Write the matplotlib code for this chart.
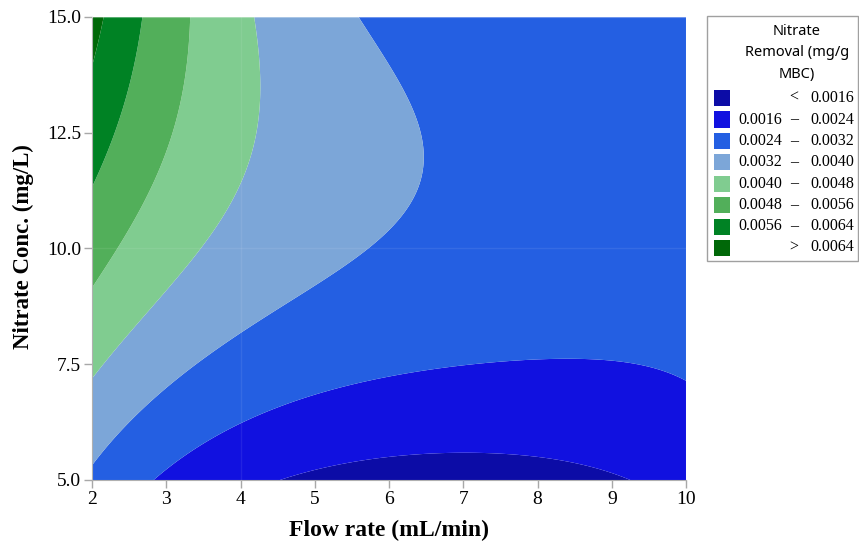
import numpy as np
import matplotlib
matplotlib.use("Agg")
import matplotlib.pyplot as plt
from matplotlib.patches import Rectangle

# ───────────────────────────────────────────────
# points (flow rate, nitrate conc.)
c0016 = [(4.58, 5.0), (6.01, 5.50), (7.09, 5.59), (7.99, 5.49), (9.0, 5.04)]
c0024 = [(2.78, 5.0), (3.23, 5.61), (3.99, 6.22), (5.12, 6.91), (6.15, 7.32),
         (7.54, 7.70), (8.12, 7.70), (9.02, 7.52), (9.99, 6.91)]
c0032 = [(2.0, 5.32), (2.29, 5.86), (2.78, 6.69), (3.99, 8.10), (5.21, 9.32),
         (5.70, 9.97), (6.17, 10.76), (6.42, 11.87), (6.19, 13.24), (5.52, 15.0)]
c0040 = [(2.0, 7.20), (2.42, 7.88), (2.87, 8.89), (3.45, 9.97), (3.95, 10.98),
         (4.17, 11.91), (4.31, 12.67), (4.31, 13.82), (4.17, 15.0)]
c0048 = [(2.0, 9.25), (2.42, 10.18), (2.80, 11.33), (3.05, 12.34), (3.21, 13.57),
         (3.28, 15.0)]
c0056 = [(2.0, 11.41), (2.27, 12.38), (2.47, 13.39), (2.67, 15.0)]
c0064 = [(2.0, 13.9), (2.08, 14.5), (2.18, 15.0)]

contour_pts = {0.0016: c0016, 0.0024: c0024, 0.0032: c0032, 0.0040: c0040,
               0.0048: c0048, 0.0056: c0056, 0.0064: c0064}

# estimated values inside bands (corners / open areas)
anchor_x = [10, 8, 10, 8, 10, 7, 10, 2, 2]
anchor_y = [15, 15, 12.5, 12, 10, 5, 5, 15, 5]
anchor_z = [0.0028, 0.0028, 0.0028, 0.0029, 0.0027, 0.0013, 0.0018, 0.0067, 0.0031]

levels = [0.0016, 0.0024, 0.0032, 0.0040, 0.0048, 0.0056, 0.0064]
colors = ["#0c0ca6", "#1111e0", "#245fe2", "#7ca6d8",
          "#80cc90", "#52af5a", "#008224", "#006808"]

x_ticks = [2, 3, 4, 5, 6, 7, 8, 9, 10]
y_ticks = [5.0, 7.5, 10.0, 12.5, 15.0]

# ───────────────────────────────────────────────
# smooth surface through the read points (polynomial least squares)
px, py, pz = [], [], []
for lv, pts in contour_pts.items():
    for x, y in pts:
        px.append(x); py.append(y); pz.append(lv)
px = np.array(px + anchor_x, float)
py = np.array(py + anchor_y, float)
pz = np.array(pz + anchor_z)

def design(x, y):
    return np.column_stack([np.ones_like(x), x, y, x * x, y * y, x * y,
                            x**3, y**3, x * x * y, x * y * y,
                            x**4, y**4, x**3 * y, x * y**3, x**2 * y**2])

coef, *_ = np.linalg.lstsq(design(px, py), pz, rcond=None)

gx, gy = np.meshgrid(np.linspace(2, 10, 241), np.linspace(5, 15, 241))
gz = (design(gx.ravel(), gy.ravel()) @ coef).reshape(gx.shape)

# ───────────────────────────────────────────────
W, H = 859, 549
fig = plt.figure(figsize=(W / 100, H / 100), dpi=100)
ax = fig.add_axes([92 / W, 1 - 480 / H, (686 - 92) / W, (480 - 17) / H])

bounds = [min(gz.min(), 0) - 1] + levels + [gz.max() + 1]
ax.contourf(gx, gy, gz, levels=bounds, colors=colors, antialiased=True)
ax.axvline(4, color="white", alpha=0.08, lw=1)
ax.axhline(10, color="white", alpha=0.08, lw=1)

ax.set_xlim(2, 10)
ax.set_ylim(5, 15)
ax.set_xticks(x_ticks)
ax.set_yticks(y_ticks)
ax.set_xticklabels([str(t) for t in x_ticks])
ax.set_yticklabels([f"{t:.1f}" for t in y_ticks])

serif = "Liberation Serif"
for lab in ax.get_xticklabels() + ax.get_yticklabels():
    lab.set_fontfamily(serif)
    lab.set_fontsize(14)
ax.tick_params(direction="out", length=6, color="#a8a8a8", width=1, pad=2)

for s in ["left", "bottom"]:
    ax.spines[s].set_color("#b0b0b0")
for s in ["top", "right"]:
    ax.spines[s].set_color((1, 1, 1, 0.35))

ax.set_xlabel("Flow rate (mL/min)", fontfamily=serif, fontweight="bold", fontsize=17)
ax.set_ylabel("Nitrate Conc. (mg/L)", fontfamily=serif, fontweight="bold", fontsize=16.5)
ax.xaxis.set_label_coords(0.5, (480 - 530) / 463)
ax.xaxis.label.set_va("center")
ax.yaxis.set_label_coords((23 - 92) / 594, (480 - 247) / 463)
ax.yaxis.label.set_va("center")

# ───────────────────────────────────────────────
# legend box drawn by hand
def fx(p): return p / W
def fy(p): return 1 - p / H

fig.add_artist(Rectangle((fx(707), fy(261)), fx(858) - fx(707), fy(16) - fy(261),
                         transform=fig.transFigure, facecolor="white",
                         edgecolor="#a0a0a0", lw=1))
for i, line in enumerate(["Nitrate", "Removal (mg/g", "MBC)"]):
    fig.text(fx(797), fy(31.5 + 21.5 * i), line, ha="center", va="center",
             fontsize=10.5, fontfamily="Noto Sans", fontweight="semibold")

row_y = [98, 119.5, 141, 162, 183.5, 205, 226.5, 247.5]
for i in range(len(colors)):
    yc = row_y[i]
    fig.add_artist(Rectangle((fx(714), fy(yc + 8)), fx(730) - fx(714), fy(yc - 8) - fy(yc + 8),
                             transform=fig.transFigure, facecolor=colors[i], edgecolor="none"))
    if i == 0:
        sym, lo, hi = "<", "", f"{levels[0]:.4f}"
    elif i == len(colors) - 1:
        sym, lo, hi = ">", "", f"{levels[-1]:.4f}"
    else:
        sym, lo, hi = "–", f"{levels[i - 1]:.4f}", f"{levels[i]:.4f}"
    fig.text(fx(738), fy(yc), lo, ha="left", va="center", fontsize=11.5, fontfamily=serif)
    fig.text(fx(794), fy(yc), sym, ha="center", va="center", fontsize=11.5, fontfamily=serif)
    fig.text(fx(854), fy(yc), hi, ha="right", va="center", fontsize=11.5, fontfamily=serif)

fig.savefig("out.png", dpi=100)
